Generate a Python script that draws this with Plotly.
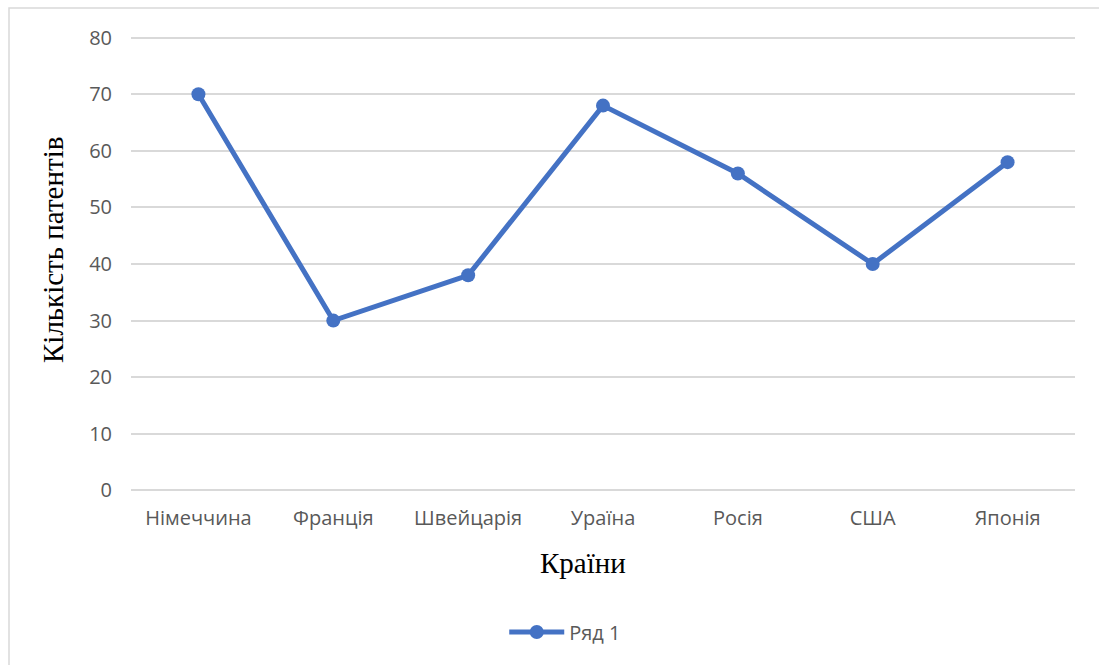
import plotly.graph_objects as go

countries = ["Німеччина", "Франція", "Швейцарія", "Ураїна", "Росія", "США", "Японія"]
patents = [70, 30, 38, 68, 56, 40, 58]
series_name = "Ряд 1"
y_ticks = [0, 10, 20, 30, 40, 50, 60, 70, 80]
x_title = "Країни"
y_title = "Кількість патентів"

W, H = 1099, 665
L, R, T, B = 131, 24, 36, 173
pw, ph = W - L - R, H - T - B


def px_x(v):
    return (v - L) / pw


def px_y(v):
    return (T + ph - v) / ph


fig = go.Figure()
fig.add_trace(go.Scatter(
    x=countries, y=patents, name=series_name, mode="lines+markers",
    line=dict(color="#4472C4", width=5),
    marker=dict(color="#4472C4", size=14),
))

tick_font = dict(family="Open Sans, Noto Sans, sans-serif", size=20, color="#595959")
title_font = dict(family="Liberation Serif, Times New Roman, serif", size=29, color="#000000")

grid_color = "#d9d9d9"
# outer chart-area frame
shapes = [dict(type="rect", xref="paper", yref="paper",
               x0=px_x(9), x1=px_x(1101), y0=px_y(668), y1=px_y(8),
               line=dict(color=grid_color, width=1.5), layer="below")]

# small padding so the 0 and 80 gridlines are drawn inside the plot area
pad = 0.3

fig.update_layout(
    width=W, height=H,
    margin=dict(l=L, r=R, t=T, b=B),
    paper_bgcolor="white", plot_bgcolor="white",
    showlegend=True,
    legend=dict(orientation="h", x=0.46, xanchor="center", y=px_y(632), yanchor="middle",
                font=tick_font, itemwidth=55),
    xaxis=dict(range=[-0.5, 6.5], showgrid=False, zeroline=False, showline=False,
               tickfont=tick_font, ticks="", ticklabelstandoff=12),
    yaxis=dict(range=[y_ticks[0] - pad, y_ticks[-1] + pad], tickvals=y_ticks,
               showgrid=True, gridcolor=grid_color, gridwidth=1.5,
               zeroline=False, showline=False, tickfont=tick_font, ticks="",
               ticklabelstandoff=18),
    shapes=shapes,
    annotations=[
        dict(text=x_title, xref="paper", yref="paper", x=px_x(583), y=px_y(563),
             xanchor="center", yanchor="middle", showarrow=False, font=title_font),
        dict(text=y_title, xref="paper", yref="paper", x=px_x(53), y=px_y(250),
             xanchor="center", yanchor="middle", showarrow=False, font=title_font,
             textangle=-90),
    ],
)

fig.write_html("out.html")
